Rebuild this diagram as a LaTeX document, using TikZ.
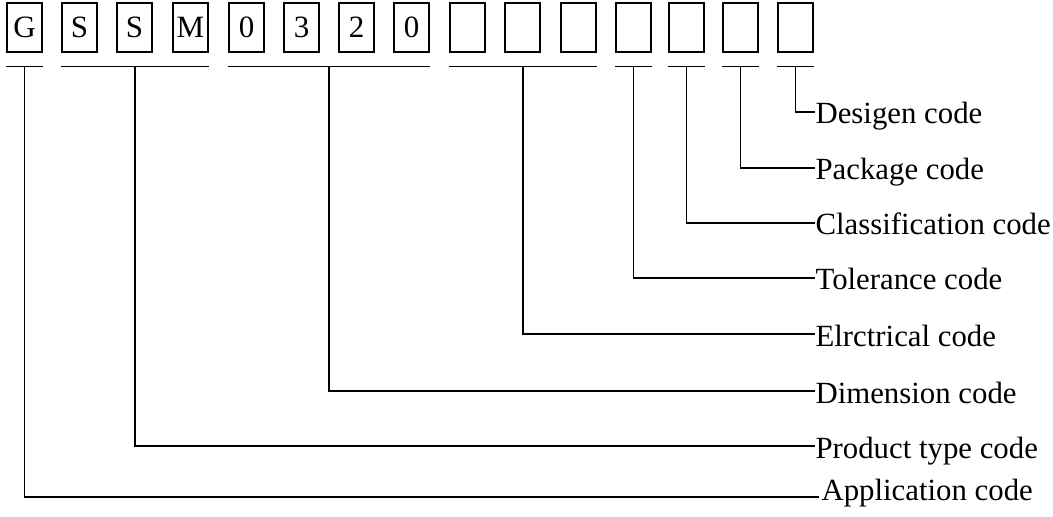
\documentclass[tikz,border=0pt]{standalone}
\usepackage{fontspec}
\setmainfont{Liberation Serif}
\usetikzlibrary{calc}
\begin{document}
\begin{tikzpicture}[x=1bp,y=-1bp,line width=1.1bp,
  cbox/.style={draw,minimum width=35bp,minimum height=49bp,inner sep=0pt,font=\fontsize{31bp}{36bp}\selectfont},
  lbl/.style={inner sep=0pt,anchor=base west,font=\fontsize{30.8bp}{36bp}\selectfont},
  bar/.style={line width=1.1bp},
  conn/.style={line width=1.1bp}]
\useasboundingbox (0,0) rectangle (1053,517);
% character boxes
\foreach \i/\x/\t in {1/7/G,2/62/S,3/117/S,4/173/M,5/229/0,6/284/3,7/339/2,8/394/0,
  9/450/{},10/505/{},11/561/{},12/616/{},13/669/{},14/723/{},15/778/{}}
  \node[cbox] (b\i) at (\x+17.5,27.5) {\t};
% group bars
\foreach \g/\a/\b in {1/1/1,2/2/4,3/5/8,4/9/11,5/12/12,6/13/13,7/14/14,8/15/15}{
  \coordinate (gl\g) at ([yshift=-14bp]b\a.south west);
  \coordinate (gr\g) at ([yshift=-14bp]b\b.south east);
  \coordinate (gm\g) at ($(gl\g)!0.5!(gr\g)$);
  \draw[bar] (gl\g) -- (gr\g);
}
% label ends
\coordinate (e1) at (819,497);
\coordinate (e2) at (815,446);
\coordinate (e3) at (815,391);
\coordinate (e4) at (815,334);
\coordinate (e5) at (815,278);
\coordinate (e6) at (815,223);
\coordinate (e7) at (815,168);
\coordinate (e8) at (815,112);
\node[lbl] (l1) at ([xshift=2bp,yshift=-3bp]e1) {Application code};
\node[lbl] (l2) at ([yshift=-12bp]e2) {Product type code};
\node[lbl] (l3) at ([yshift=-12bp]e3) {Dimension code};
\node[lbl] (l4) at ([yshift=-12bp]e4) {Elrctrical code};
\node[lbl] (l5) at ([yshift=-12bp]e5) {Tolerance code};
\node[lbl] (l6) at ([yshift=-12bp]e6) {Classification code};
\node[lbl] (l7) at ([yshift=-12bp]e7) {Package code};
\node[lbl] (l8) at ([yshift=-12bp]e8) {Desigen code};
% connectors
\foreach \g in {1,...,8}
  \draw[conn] (gm\g) |- (e\g);
\end{tikzpicture}
\end{document}
